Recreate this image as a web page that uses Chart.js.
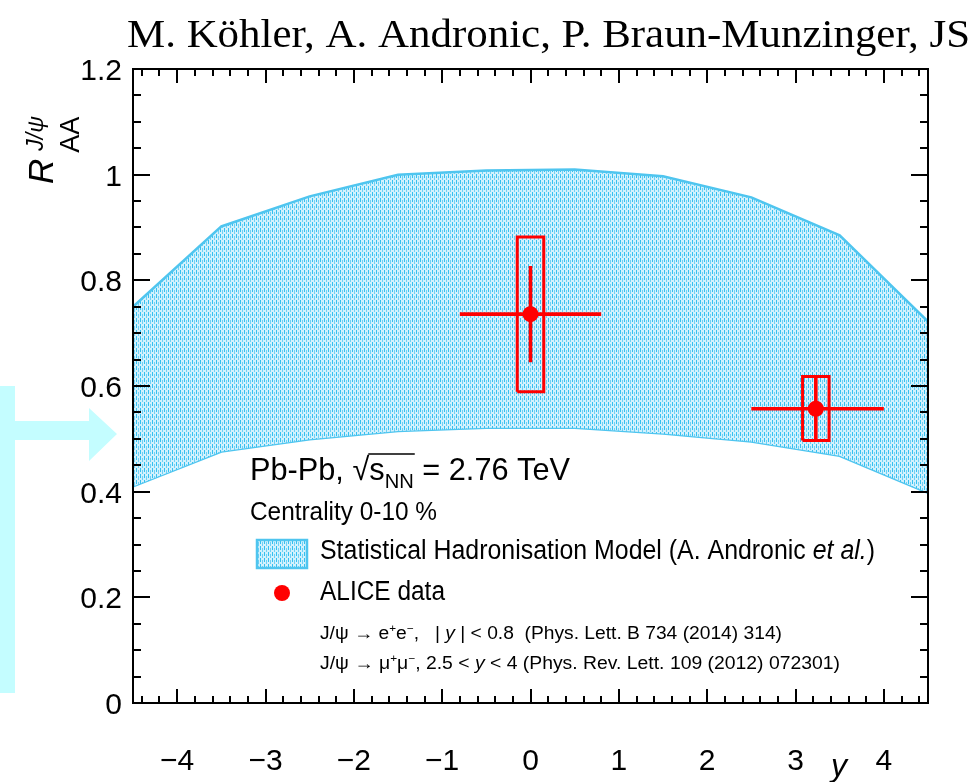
<!DOCTYPE html>
<html>
<head>
<meta charset="utf-8">
<script src="https://cdn.jsdelivr.net/npm/chart.js@4.4.1/dist/chart.umd.min.js"></script>
<style>
  html, body { margin: 0; padding: 0; background: #ffffff; }
  #wrap { width: 978px; height: 782px; }
</style>
</head>
<body>
<div id="wrap"><canvas id="chart" width="978" height="782"></canvas></div>
<script>
// Statistical Hadronisation Model band, sampled at rapidity nodes
const bandRapidity = [-4.5, -3.5, -2.5, -1.5, -0.5, 0.5, 1.5, 2.5, 3.5, 4.5];
const bandUpper = [0.75, 0.902, 0.959, 1.0, 1.008, 1.01, 0.997, 0.957, 0.885, 0.722];
const bandLower = [0.41, 0.476, 0.499, 0.515, 0.521, 0.521, 0.51, 0.495, 0.468, 0.398];

// ALICE data points
const dataRapidity = [0, 3.23];
const dataRaa = [0.736, 0.557];
const dataXLow = [-0.8, 2.5];
const dataXHigh = [0.8, 4.0];
const dataStat = [0.091, 0.058];
const dataSysUp = [0.146, 0.061];
const dataSysDown = [0.147, 0.06];
const dataBoxHalfWidth = [0.15, 0.15];

// axis tick labels
const xTickLabels = [-4, -3, -2, -1, 0, 1, 2, 3, 4];
const yTickLabels = [0, 0.2, 0.4, 0.6, 0.8, 1, 1.2];

const RED = "#ff0000";
const BAND_LINE = "#4fc5ef";
const SANS = "'Liberation Sans', Arial, sans-serif";

function bandPattern() {
  const c = document.createElement("canvas");
  c.width = 4;
  c.height = 6;
  const g = c.getContext("2d");
  g.fillStyle = "#d2f1fd";
  g.fillRect(0, 0, 4, 6);
  g.fillStyle = "#35c0f0";
  g.fillRect(0, 0, 1, 4);
  g.fillStyle = "#6fd1f5";
  g.fillRect(2, 2, 1, 4);
  return g.createPattern(c, "repeat");
}

// error bars: horizontal (bin width) and vertical (statistical), separated by gaps
function errorSegments() {
  const pts = [];
  dataRapidity.forEach((x, i) => {
    pts.push({ x: dataXLow[i], y: dataRaa[i] }, { x: dataXHigh[i], y: dataRaa[i] }, { x: dataXHigh[i], y: null });
    pts.push({ x, y: dataRaa[i] - dataStat[i] }, { x, y: dataRaa[i] + dataStat[i] }, { x, y: null });
  });
  return pts;
}

function sysBoxes() {
  const pts = [];
  dataRapidity.forEach((x, i) => {
    const l = x - dataBoxHalfWidth[i];
    const r = x + dataBoxHalfWidth[i];
    const lo = dataRaa[i] - dataSysDown[i];
    const hi = dataRaa[i] + dataSysUp[i];
    pts.push({ x: l, y: lo }, { x: l, y: hi }, { x: r, y: hi }, { x: r, y: lo }, { x: l, y: lo }, { x: l, y: null });
  });
  return pts;
}

// draw a list of text runs, squeezed horizontally to a target width
function drawRuns(ctx, x, y, runs, width) {
  let natural = 0;
  runs.forEach((r) => {
    ctx.font = r.font;
    r.w = ctx.measureText(r.t).width;
    natural += r.w;
  });
  const k = width ? width / natural : 1;
  const pos = [];
  let cx = x;
  runs.forEach((r) => {
    ctx.save();
    ctx.font = r.font;
    ctx.translate(cx, y + (r.dy || 0));
    ctx.scale(k, 1);
    ctx.fillText(r.t, 0, 0);
    ctx.restore();
    pos.push(cx);
    cx += r.w * k;
  });
  pos.push(cx);
  return pos;
}

const decorations = {
  id: "decorations",
  afterDraw(chart) {
    const ctx = chart.ctx;
    const area = chart.chartArea;
    const xs = chart.scales.x;
    const ys = chart.scales.y;
    ctx.save();
    ctx.fillStyle = "#000";
    ctx.textAlign = "left";
    ctx.textBaseline = "alphabetic";

    // frame
    ctx.strokeStyle = "#000";
    ctx.lineWidth = 2;
    ctx.strokeRect(area.left, area.top, area.right - area.left, area.bottom - area.top);

    // inward ticks on all four sides
    ctx.beginPath();
    for (let v = -4.4; v <= 4.41; v += 0.2) {
      const px = Math.round(xs.getPixelForValue(v));
      const major = Math.abs(v - Math.round(v)) < 0.01;
      const len = major ? 14 : 7;
      ctx.moveTo(px, area.bottom);
      ctx.lineTo(px, area.bottom - len);
      ctx.moveTo(px, area.top);
      ctx.lineTo(px, area.top + len);
    }
    for (let v = 0.05; v < 1.2; v += 0.05) {
      const py = Math.round(ys.getPixelForValue(v));
      const major = Math.abs(v * 5 - Math.round(v * 5)) < 0.01;
      const len = major ? 17 : 8;
      ctx.moveTo(area.left, py);
      ctx.lineTo(area.left + len, py);
      ctx.moveTo(area.right, py);
      ctx.lineTo(area.right - len, py);
    }
    ctx.stroke();

    // tick labels
    ctx.font = "30px " + SANS;
    ctx.textAlign = "right";
    yTickLabels.forEach((v) => {
      ctx.fillText(String(v), area.left - 11, ys.getPixelForValue(v) + 11);
    });
    ctx.textAlign = "center";
    xTickLabels.forEach((v) => {
      const s = v < 0 ? "\u2212" + Math.abs(v) : String(v);
      ctx.fillText(s, xs.getPixelForValue(v), 770);
    });

    // x axis title
    ctx.textAlign = "left";
    ctx.font = "italic 32px " + SANS;
    ctx.fillText("y", 831, 776);

    // y axis title R_AA^{J/psi}
    ctx.save();
    ctx.translate(53, 184);
    ctx.rotate(-Math.PI / 2);
    ctx.font = "italic 35px " + SANS;
    ctx.fillText("R", 0, 0);
    const rw = ctx.measureText("R").width;
    ctx.font = "27px " + SANS;
    ctx.fillText("AA", rw + 6, 26);
    ctx.font = "italic 23px " + SANS;
    ctx.fillText("J/\u03c8", rw + 8, -10);
    ctx.restore();

    // author line
    ctx.font = "40px 'Liberation Serif', 'Times New Roman', serif";
    drawRuns(ctx, 127, 47, [{ t: "M. K\u00f6hler, A. Andronic, P. Braun-Munzinger, JS", font: ctx.font }], 843);

    // legend text
    const big = "32px " + SANS;
    const sub = "21px " + SANS;
    const p = drawRuns(ctx, 250, 480, [
      { t: "Pb-Pb, ", font: big },
      { t: "\u221a", font: big },
      { t: "s", font: big },
      { t: "NN", font: sub, dy: 8 },
      { t: " = 2.76 TeV", font: big }
    ], 320);
    ctx.lineWidth = 1.5;
    ctx.beginPath();
    ctx.moveTo(p[2] - 1, 480 - 26);
    ctx.lineTo(p[4] + 1, 480 - 26);
    ctx.stroke();

    drawRuns(ctx, 250, 520, [{ t: "Centrality 0-10 %", font: "25px " + SANS }], 187);

    const mid = "27px " + SANS;
    drawRuns(ctx, 320, 559, [
      { t: "Statistical Hadronisation Model (A. Andronic ", font: mid },
      { t: "et al.", font: "italic 27px " + SANS },
      { t: ")", font: mid }
    ], 555);
    drawRuns(ctx, 320, 600, [{ t: "ALICE data", font: mid }], 125);

    const sm = "18px " + SANS;
    const smi = "italic 18px " + SANS;
    const sup = "11px " + SANS;
    drawRuns(ctx, 320, 639, [
      { t: "J/\u03c8 \u2192 e", font: sm },
      { t: "+", font: sup, dy: -7 },
      { t: "e", font: sm },
      { t: "\u2212", font: sup, dy: -7 },
      { t: ",   | ", font: sm },
      { t: "y", font: smi },
      { t: " | < 0.8  (Phys. Lett. B 734 (2014) 314)", font: sm }
    ], 462);
    drawRuns(ctx, 320, 669, [
      { t: "J/\u03c8 \u2192 \u03bc", font: sm },
      { t: "+", font: sup, dy: -7 },
      { t: "\u03bc", font: sm },
      { t: "\u2212", font: sup, dy: -7 },
      { t: ", 2.5 < ", font: sm },
      { t: "y", font: smi },
      { t: " < 4 (Phys. Rev. Lett. 109 (2012) 072301)", font: sm }
    ], 520);

    // legend swatch and marker
    ctx.fillStyle = bandPattern();
    ctx.fillRect(257, 540, 50, 28);
    ctx.strokeStyle = BAND_LINE;
    ctx.lineWidth = 2.5;
    ctx.strokeRect(257, 540, 50, 28);
    ctx.fillStyle = RED;
    ctx.beginPath();
    ctx.arc(282, 593, 8, 0, Math.PI * 2);
    ctx.fill();

    // cyan pointer arrow on the left
    ctx.fillStyle = "#c4fdff";
    ctx.fillRect(0, 386, 15, 307);
    ctx.beginPath();
    ctx.moveTo(15, 421);
    ctx.lineTo(89, 421);
    ctx.lineTo(89, 408);
    ctx.lineTo(117, 434);
    ctx.lineTo(89, 461);
    ctx.lineTo(89, 440);
    ctx.lineTo(15, 440);
    ctx.closePath();
    ctx.fill();

    ctx.restore();
  }
};

new Chart(document.getElementById("chart"), {
  type: "line",
  data: {
    datasets: [
      {
        label: "markers",
        data: dataRapidity.map((x, i) => ({ x, y: dataRaa[i] })),
        showLine: false,
        pointRadius: 8,
        pointBackgroundColor: RED,
        pointBorderColor: RED,
        pointBorderWidth: 0,
        order: 0
      },
      {
        label: "error bars",
        data: errorSegments(),
        borderColor: RED,
        backgroundColor: RED,
        borderWidth: 3.6,
        pointRadius: 0,
        spanGaps: false,
        fill: false,
        order: 1
      },
      {
        label: "sys boxes",
        data: sysBoxes(),
        borderColor: RED,
        backgroundColor: RED,
        borderWidth: 3,
        pointRadius: 0,
        spanGaps: false,
        fill: false,
        order: 1
      },
      {
        label: "SHM upper",
        data: bandRapidity.map((x, i) => ({ x, y: bandUpper[i] })),
        borderColor: BAND_LINE,
        borderWidth: 2.5,
        backgroundColor: bandPattern(),
        pointRadius: 0,
        fill: 4,
        tension: 0,
        order: 10
      },
      {
        label: "SHM lower",
        data: bandRapidity.map((x, i) => ({ x, y: bandLower[i] })),
        borderColor: BAND_LINE,
        borderWidth: 2.5,
        pointRadius: 0,
        fill: false,
        tension: 0,
        order: 10
      }
    ]
  },
  options: {
    responsive: false,
    devicePixelRatio: 1,
    animation: false,
    layout: { padding: { left: 0, right: 50, top: 69, bottom: 0 } },
    plugins: {
      legend: { display: false },
      tooltip: { enabled: false }
    },
    scales: {
      x: {
        type: "linear",
        min: -4.5,
        max: 4.5,
        grid: { display: false },
        border: { display: false },
        ticks: { display: false },
        afterFit(scale) { scale.height = 79; }
      },
      y: {
        min: 0,
        max: 1.2,
        grid: { display: false },
        border: { display: false },
        ticks: { display: false },
        afterFit(scale) { scale.width = 133; }
      }
    }
  },
  plugins: [decorations]
});
</script>
</body>
</html>
